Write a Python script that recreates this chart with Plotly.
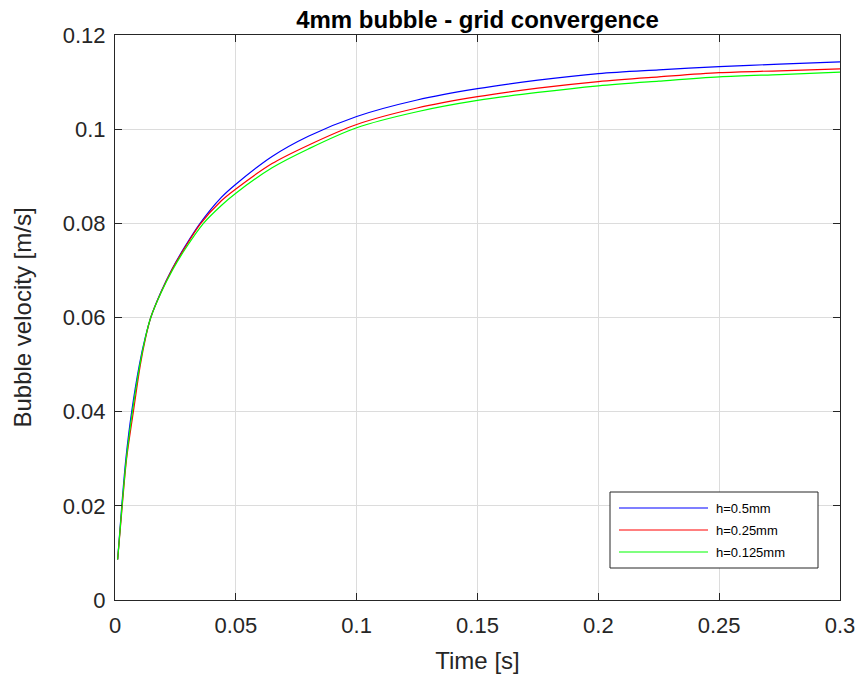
import plotly.graph_objects as go

# ---- data ----
t_blue = [0.0011, 0.0028, 0.0045, 0.0069, 0.0101, 0.0125, 0.0148, 0.019, 0.0234, 0.029, 0.0352, 0.044, 0.050,
          0.065, 0.080, 0.100, 0.125, 0.150, 0.175, 0.200, 0.225, 0.250, 0.275, 0.300]
v_blue = [0.0086, 0.0200, 0.0300, 0.0400, 0.0500, 0.0557, 0.0600, 0.0654, 0.0701, 0.0751, 0.0800, 0.0855, 0.0883,
          0.0942, 0.0985, 0.1027, 0.1062, 0.1086, 0.1104, 0.1118, 0.1126, 0.1133, 0.1138, 0.1143]

t_red = [0.0011, 0.0030, 0.0048, 0.0076, 0.0105, 0.0128, 0.0148, 0.019, 0.0234, 0.029, 0.0352, 0.044, 0.050,
         0.065, 0.080, 0.100, 0.125, 0.150, 0.175, 0.200, 0.225, 0.250, 0.275, 0.300]
v_red = [0.0086, 0.0200, 0.0300, 0.0400, 0.0500, 0.0560, 0.0600, 0.0653, 0.0700, 0.0749, 0.0798, 0.0848, 0.0873,
         0.0927, 0.0966, 0.1010, 0.1045, 0.1069, 0.1087, 0.1101, 0.1111, 0.1120, 0.1124, 0.1128]

t_green = [0.0011, 0.0029, 0.0047, 0.0072, 0.0103, 0.0126, 0.0148, 0.019, 0.0237, 0.029, 0.0366, 0.044, 0.050,
           0.065, 0.080, 0.100, 0.125, 0.150, 0.175, 0.200, 0.225, 0.250, 0.275, 0.300]
v_green = [0.0086, 0.0200, 0.0300, 0.0400, 0.0500, 0.0558, 0.0600, 0.0652, 0.0700, 0.0745, 0.0800, 0.0838, 0.0864,
           0.0918, 0.0958, 0.1003, 0.1037, 0.1061, 0.1078, 0.1092, 0.1102, 0.1111, 0.1116, 0.1121]

series_names = ["h=0.5mm", "h=0.25mm", "h=0.125mm"]
series_colors = ["#0000ff", "#ff0000", "#00ff00"]

x_ticks = [0, 0.05, 0.1, 0.15, 0.2, 0.25, 0.3]
x_ticklabels = ["0", "0.05", "0.1", "0.15", "0.2", "0.25", "0.3"]
y_ticks = [0, 0.02, 0.04, 0.06, 0.08, 0.1, 0.12]
y_ticklabels = ["0", "0.02", "0.04", "0.06", "0.08", "0.1", "0.12"]

FONT = "Liberation Sans, Arial, Helvetica, sans-serif"
AX = "#262626"

fig = go.Figure()
for tx, vy, name, col in zip([t_blue, t_red, t_green], [v_blue, v_red, v_green], series_names, series_colors):
    fig.add_trace(go.Scatter(x=tx, y=vy, mode="lines", name=name,
                             line=dict(color=col, width=1.2, shape="spline", smoothing=0.9),
                             showlegend=False))

W, H = 859, 677
L, R, T, B = 115, 19, 35, 77
pw, ph = W - L - R, H - T - B


def px2paper(px, py):
    return (px - L) / pw, (H - B - py) / ph


# custom MATLAB-style legend
x0, y0 = px2paper(610, 492)
x1, y1 = px2paper(818, 568)
shapes = [dict(type="rect", xref="paper", yref="paper", x0=x0, y0=y1, x1=x1, y1=y0,
               line=dict(color=AX, width=1), fillcolor="white", layer="above")]
annotations = []
for i, (name, col) in enumerate(zip(series_names, series_colors)):
    py = 508 + 22 * i
    lx0, ly = px2paper(619, py)
    lx1, _ = px2paper(708, py)
    shapes.append(dict(type="line", xref="paper", yref="paper", x0=lx0, x1=lx1, y0=ly, y1=ly,
                       line=dict(color=col, width=1.2), layer="above"))
    tx, _ = px2paper(714, py)
    annotations.append(dict(xref="paper", yref="paper", x=tx, y=ly, text=name, showarrow=False,
                            xanchor="left", yanchor="middle", font=dict(family=FONT, size=13, color="black")))

fig.update_layout(
    width=W, height=H,
    margin=dict(l=L, r=R, t=T, b=B, autoexpand=False),
    paper_bgcolor="white", plot_bgcolor="white",
    title=dict(text="<b>4mm bubble - grid convergence</b>", x=(L + pw / 2) / W, xanchor="center",
               y=1 - 20 / H, yanchor="middle", font=dict(family=FONT, size=24, color="black")),
    shapes=shapes, annotations=annotations,
    font=dict(family=FONT, color=AX),
)
fig.update_xaxes(range=[0, 0.3], tickvals=x_ticks, ticktext=x_ticklabels, automargin=False,
                 showline=True, linecolor=AX, linewidth=1, mirror="allticks",
                 ticks="inside", ticklen=7, tickcolor=AX, ticklabelstandoff=6,
                 showgrid=True, gridcolor="#dcdcdc", gridwidth=1, zeroline=False,
                 tickfont=dict(family=FONT, size=22, color=AX),
                 title=dict(text="Time [s]", font=dict(family=FONT, size=24, color=AX), standoff=14))
fig.update_yaxes(range=[0, 0.12], tickvals=y_ticks, ticktext=y_ticklabels, automargin=False,
                 showline=True, linecolor=AX, linewidth=1, mirror="allticks",
                 ticks="inside", ticklen=7, tickcolor=AX, ticklabelstandoff=4,
                 showgrid=True, gridcolor="#dcdcdc", gridwidth=1, zeroline=False,
                 tickfont=dict(family=FONT, size=22, color=AX),
                 title=dict(text="Bubble velocity [m/s]", font=dict(family=FONT, size=24, color=AX), standoff=24))

fig.write_html("out.html")
